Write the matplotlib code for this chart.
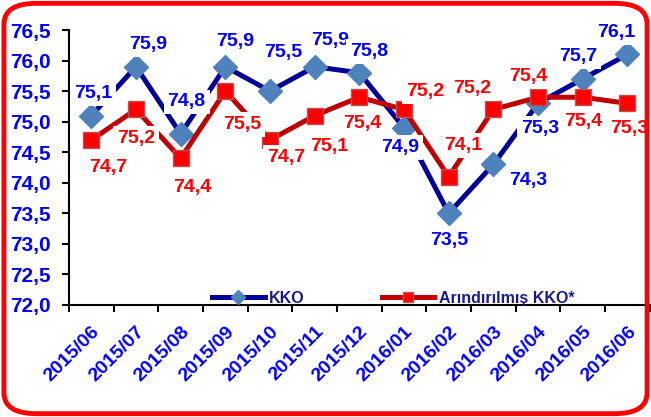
import matplotlib.pyplot as plt
from matplotlib.patches import FancyBboxPatch
import numpy as np

plt.rcParams['font.family'] = ['Liberation Sans', 'DejaVu Sans']

months = ["2015/06", "2015/07", "2015/08", "2015/09", "2015/10", "2015/11", "2015/12",
          "2016/01", "2016/02", "2016/03", "2016/04", "2016/05", "2016/06"]
kko = [75.1, 75.9, 74.8, 75.9, 75.5, 75.9, 75.8, 74.9, 73.5, 74.3, 75.3, 75.7, 76.1]
arind = [74.7, 75.2, 74.4, 75.5, 74.7, 75.1, 75.4, 75.2, 74.1, 75.2, 75.4, 75.4, 75.3]

# label offsets in pixels (dx, dy up)
kko_off = [(2, 22), (12, 22), (6, 32), (10, 25), (13, 39), (15, 26), (10, 21),
           (-4, -20), (0, -27), (35, -16), (2, -25), (-5, 22), (-11, 22)]
arind_off = [(17, -27), (0, -29), (12, -29), (17, -33), (16, -17), (15, -31), (3, -26),
             (21, 18), (14, 31), (-21, 21), (-10, 21), (0, -24), (2, -25)]

fig = plt.figure(figsize=(6.51, 4.17), dpi=100)
ax = fig.add_axes([0.106, 0.2686, 0.892, 0.6594])

x = np.arange(len(months))
ax.plot(x, kko, color="#000099", lw=3.6, marker="D", ms=12, mfc="#4F81BD",
        mec="#4F81BD", label="KKO", zorder=3)
ax.plot(x, arind, color="#C00000", lw=3.6, marker="s", ms=11, mfc="#FF0000",
        mec="#C0504D", mew=1, label="Arındırılmış KKO*", zorder=3)

for i in range(len(x)):
    dx, dy = kko_off[i]
    ax.annotate(f"{kko[i]:.1f}".replace(".", ","), (x[i], kko[i]),
                xytext=(dx * 0.72, dy * 0.72), textcoords="offset points",
                ha="center", va="center", color="#0000FF", fontsize=14, fontweight="bold",
                bbox=dict(boxstyle="square,pad=0.2", fc="white", ec="none"), zorder=5)
    dx, dy = arind_off[i]
    ax.annotate(f"{arind[i]:.1f}".replace(".", ","), (x[i], arind[i]),
                xytext=(dx * 0.72, dy * 0.72), textcoords="offset points",
                ha="center", va="center", color="#FF0000", fontsize=14, fontweight="bold",
                bbox=dict(boxstyle="square,pad=0.2", fc="white", ec="none"), zorder=5)

ax.set_xlim(-0.5, len(months) - 0.5)
ax.set_ylim(72, 76.5)
ax.set_yticks(np.arange(72, 76.51, 0.5))
ax.set_yticklabels([f"{v:.1f}".replace(".", ",") for v in np.arange(72, 76.51, 0.5)])
ax.set_xticks(x)
ax.set_xticklabels(months, rotation=45, ha="right", rotation_mode="anchor")
ax.set_xticks(np.arange(-0.5, len(months), 1), minor=True)
ax.tick_params(axis="x", which="major", length=0, pad=13, labelsize=14, labelcolor="#0000FF")
ax.tick_params(axis="x", which="minor", length=5, width=1.5)
ax.tick_params(axis="y", length=5, width=1.5, pad=8, labelsize=15, labelcolor="#0000FF")
for lab in ax.get_xticklabels() + ax.get_yticklabels():
    lab.set_fontweight("bold")

ax.spines["top"].set_visible(False)
ax.spines["right"].set_visible(False)
ax.spines["left"].set_linewidth(1.5)
ax.spines["bottom"].set_linewidth(1.5)

leg = ax.legend(loc="lower center", bbox_to_anchor=(0.5585, -0.055), ncol=2, frameon=False,
                columnspacing=4.8, handlelength=3.3, handletextpad=0.3,
                prop=dict(size=11.5, weight="bold"))
for t in leg.get_texts():
    t.set_color("#1A1A8C")
for h in leg.legend_handles:
    h.set_markersize(7)

fig.patches.append(FancyBboxPatch((0.006, 0.008), 0.988, 0.984, boxstyle="round,pad=0,rounding_size=0.05",
                                  transform=fig.transFigure, fc="none", ec="#FF0000", lw=3.5, zorder=10))

plt.savefig("out.png", dpi=100)
